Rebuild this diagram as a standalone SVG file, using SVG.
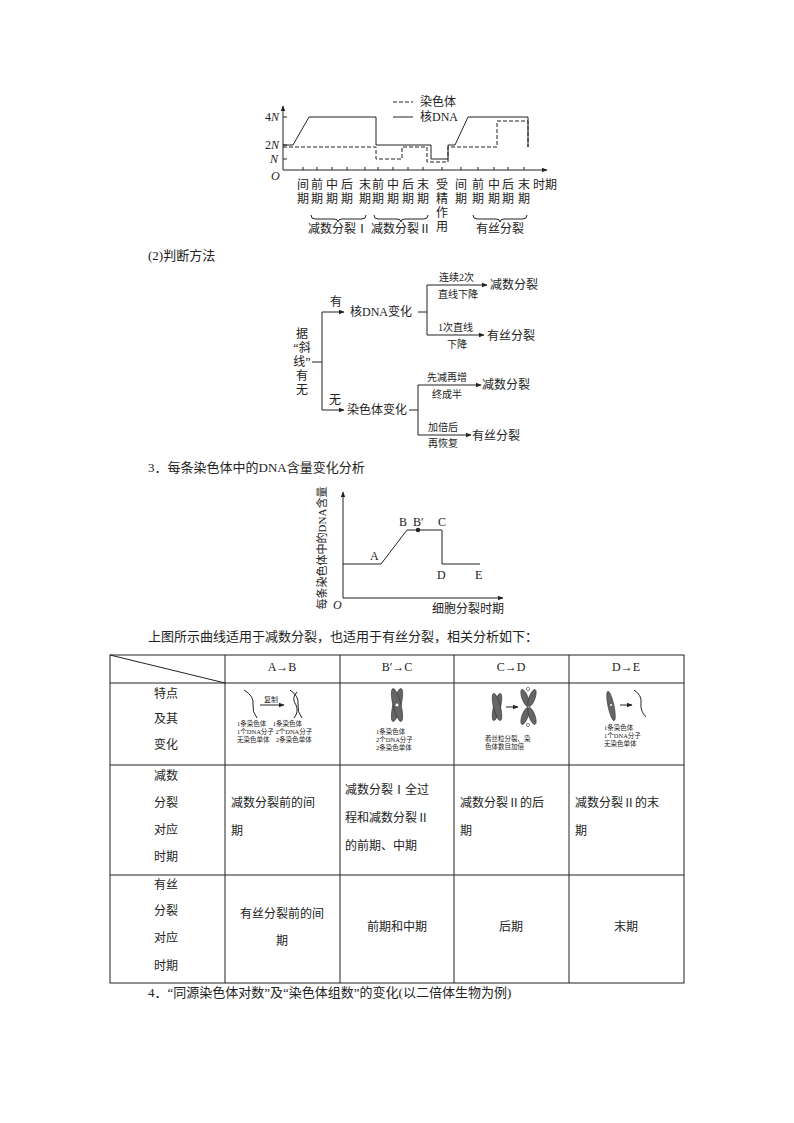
<svg xmlns="http://www.w3.org/2000/svg" width="794" height="1123" viewBox="0 0 794 1123">
<defs>
<marker id="ar" viewBox="0 0 10 10" refX="9" refY="5" markerWidth="6" markerHeight="6" orient="auto"><path d="M0,1 L10,5 L0,9 z" fill="#222"/></marker>
<style>
text{font-family:"Liberation Serif","Noto Sans CJK SC",serif;fill:#222;font-size:12px}
.t{font-size:13px}
.s{font-size:6.5px}
.f10{font-size:10px}
.f7{font-size:7px}
.f11{font-size:11px}
.ln{stroke:#222;stroke-width:1;fill:none}
.d{stroke:#222;stroke-width:1;fill:none;stroke-dasharray:4,2}
.c{fill:#666;stroke:#333;stroke-width:0.6}
.m{text-anchor:middle}
</style>
</defs>
<rect width="794" height="1123" fill="#fff"/>

<g id="chart1">
<line class="ln" x1="283" y1="170" x2="283" y2="106" marker-end="url(#ar)"/>
<line class="ln" x1="283" y1="170" x2="547" y2="170" marker-end="url(#ar)"/>
<g class="ln"><path d="M283,117h4M283,145h4M283,159h4"/></g>
<g class="ln"><path d="M303,170v-3M317,170v-3M332,170v-3M347,170v-3M365,170v-3M378,170v-3M393,170v-3M408,170v-3M423,170v-3M442,170v-3M461,170v-3M478,170v-3M494,170v-3M508,170v-3M524,170v-3"/></g>
<text x="265" y="121">4<tspan font-style="italic">N</tspan></text>
<text x="265" y="149">2<tspan font-style="italic">N</tspan></text>
<text x="270" y="163" font-style="italic">N</text>
<text x="271" y="180" font-style="italic">O</text>
<path class="ln" d="M283,145H293L309,117H376V145H431V159H448V145H455L468,117H528V147"/>
<path class="d" d="M283,147H376V159H402V147H427V162H448V147H497V121H528V147"/>
<line class="d" x1="393" y1="102" x2="413" y2="102"/>
<text x="420" y="106">染色体</text>
<line class="ln" x1="393" y1="117" x2="413" y2="117"/>
<text x="420" y="121">核DNA</text>
<g class="m">
<text x="303" y="189">间</text><text x="303" y="203">期</text>
<text x="317" y="189">前</text><text x="317" y="203">期</text>
<text x="332" y="189">中</text><text x="332" y="203">期</text>
<text x="347" y="189">后</text><text x="347" y="203">期</text>
<text x="365" y="189">末</text><text x="365" y="203">期</text>
<text x="378" y="189">前</text><text x="378" y="203">期</text>
<text x="393" y="189">中</text><text x="393" y="203">期</text>
<text x="408" y="189">后</text><text x="408" y="203">期</text>
<text x="423" y="189">末</text><text x="423" y="203">期</text>
<text x="442" y="189">受</text><text x="442" y="203">精</text><text x="442" y="217">作</text><text x="442" y="231">用</text>
<text x="461" y="189">间</text><text x="461" y="203">期</text>
<text x="478" y="189">前</text><text x="478" y="203">期</text>
<text x="494" y="189">中</text><text x="494" y="203">期</text>
<text x="508" y="189">后</text><text x="508" y="203">期</text>
<text x="524" y="189">末</text><text x="524" y="203">期</text>
</g>
<text x="533" y="189">时期</text>
<path class="ln" d="M311,215q0,4 4,4H334q4,0 4,3q0,-3 4,-3H362q4,0 4,-4"/>
<path class="ln" d="M374,215q0,4 4,4H397q4,0 4,3q0,-3 4,-3H424q4,0 4,-4"/>
<path class="ln" d="M473,215q0,4 4,4H496q4,0 4,3q0,-3 4,-3H523q4,0 4,-4"/>
<text x="338" y="233" class="m">减数分裂Ⅰ</text>
<text x="401" y="233" class="m">减数分裂Ⅱ</text>
<text x="500" y="233" class="m">有丝分裂</text>
</g>

<text x="148" y="260" class="t">(2)判断方法</text>

<g id="tree">
<g class="m"><text x="302" y="338">据</text><text x="302" y="352">“斜</text><text x="302" y="366">线”</text><text x="302" y="380">有</text><text x="302" y="394">无</text></g>
<path class="ln" d="M312,362H322M322,312V410"/>
<line class="ln" x1="322" y1="312" x2="344" y2="312" marker-end="url(#ar)"/>
<text x="330" y="306">有</text>
<text x="350" y="316">核DNA变化</text>
<path class="ln" d="M418,312H427M427,285V335"/>
<line class="ln" x1="427" y1="285" x2="487" y2="285" marker-end="url(#ar)"/>
<line class="ln" x1="427" y1="335" x2="484" y2="335" marker-end="url(#ar)"/>
<text x="439" y="281" class="f10">连续2次</text>
<text x="438" y="298" class="f10">直线下降</text>
<text x="490" y="289">减数分裂</text>
<text x="438" y="331" class="f10">1次直线</text>
<text x="447" y="348" class="f10">下降</text>
<text x="487" y="340">有丝分裂</text>
<line class="ln" x1="322" y1="410" x2="344" y2="410" marker-end="url(#ar)"/>
<text x="329" y="404">无</text>
<text x="347" y="414">染色体变化</text>
<path class="ln" d="M409,410H418M418,385V435"/>
<line class="ln" x1="418" y1="385" x2="481" y2="385" marker-end="url(#ar)"/>
<line class="ln" x1="418" y1="435" x2="471" y2="435" marker-end="url(#ar)"/>
<text x="427" y="381" class="f10">先减再增</text>
<text x="432" y="398" class="f10">终成半</text>
<text x="482" y="389">减数分裂</text>
<text x="428" y="431" class="f10">加倍后</text>
<text x="428" y="447" class="f10">再恢复</text>
<text x="472" y="440">有丝分裂</text>
</g>

<text x="148" y="472" class="t">3．每条染色体中的DNA含量变化分析</text>

<g id="chart2">
<line class="ln" x1="343" y1="598" x2="343" y2="492" marker-end="url(#ar)"/>
<line class="ln" x1="343" y1="598" x2="503" y2="598" marker-end="url(#ar)"/>
<path class="ln" d="M343,564H381L407,530H442V564H480"/>
<circle cx="418" cy="530" r="2.2" fill="#222"/>
<text x="370" y="560">A</text><text x="399" y="526">B</text><text x="413" y="526">B′</text><text x="438" y="526">C</text>
<text x="437" y="579">D</text><text x="475" y="579">E</text>
<text x="333" y="609" font-style="italic">O</text>
<text x="432" y="613">细胞分裂时期</text>
<text transform="translate(326,548) rotate(-90)" class="m f11">每条染色体中的DNA含量</text>
</g>

<text x="148" y="641" class="t">上图所示曲线适用于减数分裂，也适用于有丝分裂，相关分析如下：</text>

<g id="table">
<rect class="ln" x="110" y="655" width="574" height="328"/>
<path class="ln" d="M110,683H684M110,765H684M110,875H684M225,655V983M340,655V983M454,655V983M569,655V983M110,655L225,683"/>
<g class="m t">
<text x="282" y="671">A→B</text><text x="397" y="671">B′→C</text><text x="511" y="671">C→D</text><text x="626" y="671">D→E</text>
<text x="166" y="698">特点</text><text x="166" y="723">及其</text><text x="166" y="749">变化</text>
<text x="166" y="780">减数</text><text x="166" y="807">分裂</text><text x="166" y="834">对应</text><text x="166" y="861">时期</text>
<text x="166" y="889">有丝</text><text x="166" y="915">分裂</text><text x="166" y="942">对应</text><text x="166" y="970">时期</text>
<text x="282" y="918">有丝分裂前的间</text><text x="282" y="945">期</text>
<text x="397" y="931">前期和中期</text><text x="511" y="931">后期</text><text x="626" y="931">末期</text>
</g>
<g class="t">
<text x="231" y="807">减数分裂前的间</text><text x="231" y="835">期</text>
<text x="345" y="794">减数分裂Ⅰ全过</text><text x="345" y="822">程和减数分裂Ⅱ</text><text x="345" y="850">的前期、中期</text>
<text x="460" y="807">减数分裂Ⅱ的后</text><text x="460" y="835">期</text>
<text x="575" y="807">减数分裂Ⅱ的末</text><text x="575" y="835">期</text>
</g>
<path class="ln" d="M244,690q10,6 9,14q-1,8 4,14"/>
<line class="ln" x1="260" y1="705" x2="284" y2="705" marker-end="url(#ar)"/>
<text x="264" y="702" class="f7">复制</text>
<path class="ln" d="M290,690q9,6 8,14q-1,8 4,14M297,692q-6,6 -1,13q3,7 -2,13"/>
<text x="237" y="726" class="s">1条染色体　1条染色体</text>
<text x="237" y="734" class="s">1个DNA分子 2个DNA分子</text>
<text x="237" y="742" class="s">无染色单体　2条染色单体</text>
<g class="c"><ellipse cx="397" cy="705" rx="4" ry="17" transform="rotate(14 397 705)"/><ellipse cx="397" cy="705" rx="4" ry="17" transform="rotate(-14 397 705)"/></g>
<circle cx="397" cy="705" r="2" fill="#fff" stroke="#333" stroke-width="0.6"/>
<text x="376" y="734" class="s">1条染色体</text><text x="376" y="742" class="s">2个DNA分子</text><text x="376" y="750" class="s">2条染色单体</text>
<g class="c"><ellipse cx="497" cy="707" rx="3.5" ry="14" transform="rotate(14 497 707)"/><ellipse cx="497" cy="707" rx="3.5" ry="14" transform="rotate(-14 497 707)"/>
<ellipse cx="525" cy="698" rx="3" ry="9" transform="rotate(-20 525 698)"/><ellipse cx="532" cy="698" rx="3" ry="9" transform="rotate(20 532 698)"/>
<ellipse cx="525" cy="716" rx="3" ry="9" transform="rotate(20 525 716)"/><ellipse cx="532" cy="716" rx="3" ry="9" transform="rotate(-20 532 716)"/></g>
<circle cx="528" cy="689" r="1.6" fill="#fff" stroke="#333" stroke-width="0.6"/><circle cx="528" cy="725" r="1.6" fill="#fff" stroke="#333" stroke-width="0.6"/>
<line class="ln" x1="506" y1="707" x2="518" y2="707" marker-end="url(#ar)"/>
<text x="485" y="741" class="s">着丝粒分裂、染</text><text x="485" y="749" class="s">色体数目加倍</text>
<ellipse class="c" cx="611" cy="706" rx="3" ry="15" transform="rotate(-12 611 706)"/>
<circle cx="611" cy="705" r="1.5" fill="#fff" stroke="#333" stroke-width="0.6"/>
<line class="ln" x1="620" y1="705" x2="632" y2="705" marker-end="url(#ar)"/>
<path class="ln" d="M634,690q8,5 7,13q-1,8 5,14"/>
<text x="604" y="730" class="s">1条染色体</text><text x="604" y="738" class="s">1个DNA分子</text><text x="604" y="746" class="s">无染色单体</text>
</g>

<text x="148" y="997" class="t">4．“同源染色体对数”及“染色体组数”的变化(以二倍体生物为例)</text>
</svg>
